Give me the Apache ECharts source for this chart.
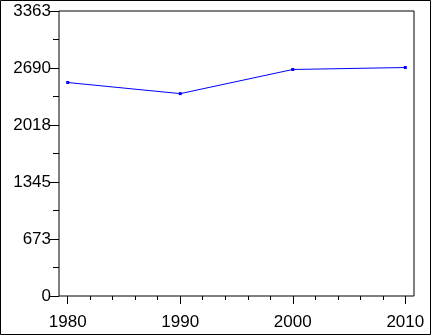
<!DOCTYPE html>
<html><head><meta charset="utf-8">
<script src="https://cdn.jsdelivr.net/npm/echarts@6/dist/echarts.min.js"></script>
<style>html,body{margin:0;padding:0;background:#fff}#c{width:432px;height:336px}</style>
</head><body><div id="c"></div>
<script>
const years = [1980, 1990, 2000, 2010];
const values = [2519, 2388, 2673, 2696];
const yMax = 3363;
const yStep = 3363 / 5;

const chart = echarts.init(document.getElementById('c'), null, {renderer: 'canvas'});
const font = {fontFamily: 'Liberation Sans', fontSize: 17, color: '#000'};
chart.setOption({
  animation: false,
  backgroundColor: '#fff',
  graphic: [{type: 'rect', shape: {x: 0.5, y: 0.5, width: 430, height: 334}, style: {fill: 'none', stroke: '#000', lineWidth: 1}}],
  grid: [
    {left: 59, right: 18, top: 11, bottom: 40, show: true, borderColor: '#000', borderWidth: 1, backgroundColor: 'transparent'},
    {left: 67.7, right: 26.7, top: 11, bottom: 40}
  ],
  xAxis: [
    {gridIndex: 0, type: 'value', show: false, min: 0, max: 1},
    {gridIndex: 1, type: 'value', min: 1980, max: 2010, interval: 10,
     axisLine: {show: false},
     axisTick: {show: true, length: 8, lineStyle: {color: '#000'}},
     minorTick: {show: true, splitNumber: 5, length: 4, lineStyle: {color: '#000'}},
     splitLine: {show: false},
     axisLabel: Object.assign({margin: 18, formatter: v => String(v)}, font)}
  ],
  yAxis: [
    {gridIndex: 0, type: 'value', show: false, min: 0, max: 1},
    {gridIndex: 1, type: 'value', min: 0, max: yMax, interval: yStep, offset: 8.7,
     axisLine: {show: false},
     axisTick: {show: true, length: 10, lineStyle: {color: '#000'}},
     minorTick: {show: true, splitNumber: 2, length: 6, lineStyle: {color: '#000'}},
     splitLine: {show: false},
     axisLabel: Object.assign({margin: 8, formatter: v => String(Math.round(v))}, font)}
  ],
  series: [{
    type: 'line', xAxisIndex: 1, yAxisIndex: 1,
    data: years.map((y, i) => [y, values[i]]),
    symbol: 'rect', symbolSize: 3,
    lineStyle: {color: '#0000ff', width: 1},
    itemStyle: {color: '#0000ff'}
  }]
});
</script></body></html>
